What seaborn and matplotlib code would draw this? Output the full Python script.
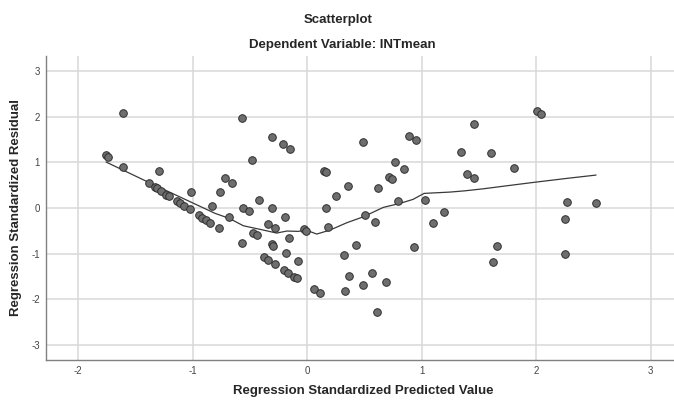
import matplotlib
matplotlib.use("Agg")
import matplotlib.pyplot as plt
import seaborn as sns
import pandas as pd

# Standardized predicted values (x) and standardized residuals (y)
pred = [
    -1.755, -1.738, -1.607, -1.604, -1.291, -1.384, -1.328, -1.310, -1.273, -1.231,
    -1.205, -1.135, -1.111, -1.074, -1.024, -1.013, -0.832, -0.946, -0.913, -0.879,
    -0.847, -0.766, -0.681, -0.719, -0.652, -0.764, -0.562, -0.507, -0.419, -0.310,
    -0.190, -0.341, -0.282, -0.469, -0.437, -0.568, -0.308, -0.294, -0.157, -0.183,
    -0.081, -0.376, -0.339, -0.279, -0.197, -0.166, -0.112, -0.089, -0.026, -0.009,
    0.057, 0.109, -0.568, -0.303, -0.212, -0.151, -0.479, 0.169, 0.181, 0.321,
    0.365, 0.329, 0.430, 0.505, 0.568, 0.487, 0.596, 0.687, 0.614, 0.795,
    0.936, 1.029, 1.102, 1.197, 0.486, 0.893, 0.950, 0.766, 0.850, 0.151,
    0.169, 0.712, 0.741, 0.355, 0.623, 0.251, 2.010, 2.044, 1.459, 1.348,
    1.605, 1.806, 1.399, 1.461, 2.268, 2.524, 2.253, 1.657, 1.622, 2.253,
]
resid = [
    1.162, 1.125, 2.094, 0.910, 0.805, 0.559, 0.467, 0.439, 0.377, 0.292,
    0.263, 0.149, 0.110, 0.044, -0.022, 0.351, 0.050, -0.158, -0.208, -0.268,
    -0.318, -0.445, -0.186, 0.662, 0.553, 0.344, 0.011, -0.072, 0.169, 0.000,
    -0.197, -0.351, -0.445, -0.537, -0.586, -0.768, -0.796, -0.822, -0.647, -0.991,
    -1.162, -1.075, -1.129, -1.228, -1.366, -1.414, -1.507, -1.535, -0.461, -0.493,
    -1.776, -1.871, 1.980, 1.550, 1.404, 1.300, 1.046, 0.007, -0.412, -1.026,
    -1.491, -1.825, -0.816, -0.149, -1.421, -1.689, -0.296, -1.618, -2.287, 0.158,
    -0.849, 0.175, -0.329, -0.092, 1.454, 1.583, 1.485, 1.002, 0.862, 0.818,
    0.783, 0.691, 0.647, 0.482, 0.445, 0.263, 2.123, 2.072, 1.836, 1.235,
    1.206, 0.884, 0.757, 0.658, 0.132, 0.110, -0.235, -0.833, -1.173, -1.015,
]

# Loess fit line
fit_x = [-1.755, -1.371, -0.803, -0.679, -0.556, -0.393, -0.265, -0.177, -0.076,
         -0.009, 0.085, 0.201, 0.347, 0.492, 0.666, 0.812, 0.926, 1.022, 1.249,
         1.380, 1.540, 1.744, 2.000, 2.268, 2.524]
fit_y = [1.01, 0.55, -0.116, -0.226, -0.388, -0.476, -0.548, -0.504, -0.511,
         -0.482, -0.570, -0.482, -0.322, -0.191, 0.015, 0.103, 0.191, 0.322, 0.351,
         0.379, 0.423, 0.489, 0.570, 0.651, 0.724]

df = pd.DataFrame({"pred": pred, "resid": resid})
fit = pd.DataFrame({"x": fit_x, "y": fit_y})

sns.set_style("white")
plt.rcParams["font.family"] = ["Liberation Sans", "DejaVu Sans"]
plt.rcParams["axes.unicode_minus"] = False

fig = plt.figure(figsize=(6.74, 4.01), dpi=100)
ax = fig.add_axes([0.0682, 0.1022, 0.9318, 0.7578])

ax.grid(True, color="#d9d9d9", linewidth=1.1)
ax.set_axisbelow(True)

sns.lineplot(data=fit, x="x", y="y", ax=ax, color="#3a3a3a", linewidth=0.9,
             sort=False, estimator=None, zorder=2)
sns.scatterplot(data=df, x="pred", y="resid", ax=ax, s=30, color="#6e6e6e",
                edgecolor="#2e2e2e", linewidth=0.7, zorder=3)

ax.set_xlim(-2.28, 3.205)
ax.set_ylim(-3.333, 3.333)
ax.set_xticks([-2, -1, 0, 1, 2, 3])
ax.set_yticks([-3, -2, -1, 0, 1, 2, 3])
ax.tick_params(axis="both", length=0, labelsize=7, labelcolor="#444444", pad=4.5)
ax.set_xlabel("")
ax.set_ylabel("")

for side in ["top", "right"]:
    ax.spines[side].set_visible(False)
for side in ["left", "bottom"]:
    ax.spines[side].set_color("#808080")
    ax.spines[side].set_linewidth(1.0)

fig.text(338 / 674, 1 - 20 / 401, "Scatterplot", ha="center", va="center",
         fontsize=9.5, fontweight="bold")
fig.text(342 / 674, 1 - 45 / 401, "Dependent Variable: INTmean", ha="center",
         va="center", fontsize=9.5, fontweight="bold")
fig.text(363.5 / 674, 1 - 391 / 401, "Regression Standardized Predicted Value",
         ha="center", va="center", fontsize=9.5, fontweight="bold")
fig.text(16 / 674, 1 - 208 / 401, "Regression Standardized Residual",
         ha="center", va="center", rotation=90, fontsize=9.5, fontweight="bold")

fig.savefig("out.png", dpi=100)
